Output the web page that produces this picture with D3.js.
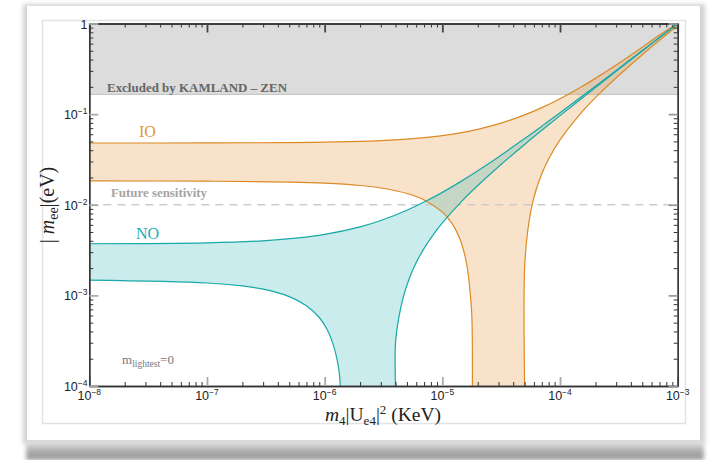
<!DOCTYPE html>
<html><head><meta charset="utf-8">
<script src="https://cdn.jsdelivr.net/npm/d3@7"></script>
<style>html,body{margin:0;padding:0;background:#fff;} svg{display:block;}</style>
</head><body><svg id="chart" width="712" height="460"></svg>
<script>
// ---------------- data ----------------
const xTickValues = [1e-8, 1e-7, 1e-6, 1e-5, 1e-4, 1e-3];
const xTickExponents = ["−8", "−7", "−6", "−5", "−4", "−3"];
const yTickValues = [1e-4, 1e-3, 1e-2, 1e-1, 1];
const yTickExponents = ["−4", "−3", "−2", "−1", ""];
const kamlandLimit = 0.165;
const futureSensitivity = 0.01;

const ioUpperX = [1e-8, 1e-7, 5e-7, 1e-6, 2e-6, 3e-6, 5e-6, 7e-6, 1e-5, 1.5e-5, 2e-5, 3e-5, 5e-5, 7e-5, 1e-4, 1.5e-4, 2e-4, 3e-4, 5e-4, 7e-4, 1e-3];
const ioUpperY = [0.048, 0.0481, 0.0485, 0.049, 0.050, 0.051, 0.053, 0.055, 0.058, 0.063, 0.068, 0.078, 0.098, 0.118, 0.148, 0.198, 0.248, 0.348, 0.548, 0.748, 1.0];
const ioLowerLeftX = [1e-8, 1e-7, 5e-7, 1e-6, 2e-6, 3e-6, 5e-6, 7e-6, 1e-5, 1.2e-5, 1.4e-5, 1.55e-5, 1.65e-5, 1.72e-5, 1.78e-5, 1.8e-5];
const ioLowerLeftY = [0.0183, 0.0182, 0.0178, 0.0173, 0.0163, 0.0153, 0.0133, 0.0113, 0.0083, 0.0063, 0.0043, 0.0028, 0.0018, 0.0011, 0.0006, 0.0001];
const ioLowerRightX = [5.0e-5, 5.0e-5, 5.3e-5, 5.7e-5, 6.2e-5, 7e-5, 8e-5, 1e-4, 1.5e-4, 2e-4, 3e-4, 5e-4, 7e-4, 1e-3];
const ioLowerRightY = [0.0001, 0.002, 0.005, 0.009, 0.014, 0.022, 0.032, 0.052, 0.102, 0.152, 0.252, 0.452, 0.652, 0.952];

const noUpperX = [1e-8, 1e-7, 3e-7, 6e-7, 1e-6, 2e-6, 3e-6, 5e-6, 7e-6, 1e-5, 1.5e-5, 2e-5, 3e-5, 5e-5, 7e-5, 1e-4, 2e-4, 3e-4, 5e-4, 7e-4, 1e-3];
const noUpperY = [0.00371, 0.0038, 0.0040, 0.0043, 0.0047, 0.0057, 0.0067, 0.0087, 0.0107, 0.0137, 0.0187, 0.0237, 0.0337, 0.0537, 0.0737, 0.1037, 0.2037, 0.3037, 0.5037, 0.7037, 1.0];
const noLowerLeftX = [1e-8, 1e-7, 2e-7, 3e-7, 5e-7, 7e-7, 9e-7, 1.05e-6, 1.18e-6, 1.27e-6, 1.33e-6, 1.36e-6];
const noLowerLeftY = [0.00147, 0.00137, 0.00127, 0.00117, 0.00097, 0.00077, 0.00057, 0.00042, 0.00029, 0.0002, 0.00014, 0.0001];
const noLowerRightX = [4.0e-6, 4.0e-6, 4.3e-6, 4.7e-6, 5.2e-6, 6e-6, 7e-6, 8.5e-6, 1e-5, 1.5e-5, 2e-5, 3e-5, 5e-5, 7e-5, 1e-4, 2e-4, 3e-4, 5e-4, 7e-4, 1e-3];
const noLowerRightY = [0.0001, 0.0003, 0.0006, 0.001, 0.0015, 0.0023, 0.0033, 0.0048, 0.0063, 0.0113, 0.0163, 0.0263, 0.0463, 0.0663, 0.0963, 0.1963, 0.2963, 0.4963, 0.6963, 0.9963];

// ---------------- layout ----------------
const svg = d3.select("#chart");
const X0 = 89.3, X1 = 677.7, Y0 = 23.5, Y1 = 386;
const x = d3.scaleLog().domain([1e-8, 1e-3]).range([X0, X1]);
const y = d3.scaleLog().domain([1e-4, 1]).range([Y1, Y0]);

const ORANGE = "#dc8a25", TEAL = "#18a8a8";

const defs = svg.append("defs");
defs.append("filter").attr("id", "blur").attr("x", "-10%").attr("y", "-10%").attr("width", "120%").attr("height", "120%")
  .append("feGaussianBlur").attr("stdDeviation", 2.2);
const grad = defs.append("linearGradient").attr("id", "btm").attr("x1", 0).attr("y1", 0).attr("x2", 0).attr("y2", 1);
grad.append("stop").attr("offset", 0).attr("stop-color", "#e8e8e8");
grad.append("stop").attr("offset", 0.6).attr("stop-color", "#a6a6a6");
grad.append("stop").attr("offset", 1).attr("stop-color", "#9a9a9a");
defs.append("clipPath").attr("id", "plotclip").append("rect")
  .attr("x", X0).attr("y", Y0).attr("width", X1 - X0).attr("height", Y1 - Y0);

// card with shadow
svg.append("rect").attr("x", 23).attr("y", 4).attr("width", 682).attr("height", 440).attr("fill", "#d2d2d2").attr("filter", "url(#blur)");
svg.append("rect").attr("x", 26).attr("y", 441).attr("width", 678).attr("height", 19).attr("fill", "url(#btm)").attr("filter", "url(#blur)");
svg.append("rect").attr("x", 27).attr("y", 6).attr("width", 673).attr("height", 434).attr("fill", "#fff");
svg.append("rect").attr("x", 42.5).attr("y", 20.5).attr("width", 643).attr("height", 403)
  .attr("fill", "#fff").attr("stroke", "#e3e3e3").attr("stroke-width", 1.5);

const plot = svg.append("g").attr("clip-path", "url(#plotclip)");

// excluded region
plot.append("rect").attr("x", X0).attr("y", y(1)).attr("width", X1 - X0).attr("height", y(kamlandLimit) - y(1)).attr("fill", "#dcdcdc");
plot.append("line").attr("x1", X0).attr("x2", X1).attr("y1", y(kamlandLimit)).attr("y2", y(kamlandLimit)).attr("stroke", "#c2c2c2").attr("stroke-width", 1);

const zip = (xs, ys) => xs.map((v, i) => [x(v), y(ys[i])]);
const line = d3.line().curve(d3.curveCatmullRom.alpha(0.5));

function band(ux, uy, rx, ry, lx, ly) {
  const up = zip(ux, uy);
  const right = zip(rx, ry).reverse();
  const left = zip(lx, ly).reverse();
  return line(up) + line(right).replace(/^M/, "L") + line(left).replace(/^M/, "L") + "Z";
}

plot.append("path").attr("d", band(ioUpperX, ioUpperY, ioLowerRightX, ioLowerRightY, ioLowerLeftX, ioLowerLeftY))
  .attr("fill", "#e8a050").attr("fill-opacity", 0.3);
plot.append("path").attr("d", band(noUpperX, noUpperY, noLowerRightX, noLowerRightY, noLowerLeftX, noLowerLeftY))
  .attr("fill", "#2ab4b4").attr("fill-opacity", 0.25);

// future sensitivity line
plot.append("line").attr("x1", X0).attr("x2", X1).attr("y1", y(futureSensitivity)).attr("y2", y(futureSensitivity))
  .attr("stroke", "#cccccc").attr("stroke-width", 1.6).attr("stroke-dasharray", "8,6");

// boundary curves
[[ioUpperX, ioUpperY], [ioLowerLeftX, ioLowerLeftY], [ioLowerRightX, ioLowerRightY]].forEach(([a, b]) =>
  plot.append("path").attr("d", line(zip(a, b))).attr("fill", "none").attr("stroke", ORANGE).attr("stroke-width", 1.2));
[[noUpperX, noUpperY], [noLowerLeftX, noLowerLeftY], [noLowerRightX, noLowerRightY]].forEach(([a, b]) =>
  plot.append("path").attr("d", line(zip(a, b))).attr("fill", "none").attr("stroke", TEAL).attr("stroke-width", 1.2));

// ---------------- axes (inward ticks, Mathematica frame) ----------------
const minorX = [], minorY = [];
for (let e = -8; e < -3; e++) for (let k = 2; k <= 9; k++) minorX.push(k * Math.pow(10, e));
for (let e = -4; e < 0; e++) for (let k = 2; k <= 9; k++) minorY.push(k * Math.pow(10, e));

function styleAxis(g, color, width) {
  g.selectAll(".tick line").attr("stroke", color).attr("stroke-width", width);
  g.select(".domain").attr("stroke", "#333").attr("stroke-width", 1.3);
}
function addAxis(axisFn, scale, transform, majors, minors, majorColor) {
  const gMin = svg.append("g").attr("transform", transform)
    .call(axisFn(scale).tickValues(minors).tickSize(-4).tickSizeOuter(0).tickFormat(""));
  styleAxis(gMin, "#333", 1);
  const gMaj = svg.append("g").attr("transform", transform)
    .call(axisFn(scale).tickValues(majors).tickSize(-9).tickSizeOuter(0).tickFormat(""));
  styleAxis(gMaj, majorColor, 1.8);
}
addAxis(d3.axisBottom, x, `translate(0,${Y1})`, xTickValues, minorX, "#aaaaaa");
addAxis(d3.axisTop, x, `translate(0,${Y0})`, xTickValues, minorX, "#444444");
addAxis(d3.axisLeft, y, `translate(${X0},0)`, yTickValues, minorY, "#aaaaaa");
addAxis(d3.axisRight, y, `translate(${X1},0)`, yTickValues, minorY, "#999999");

// tick labels
const tickFont = "'Liberation Sans', Arial, sans-serif";
xTickValues.forEach((v, i) => {
  const t = svg.append("text").attr("x", x(v)).attr("y", 400).attr("text-anchor", "middle")
    .attr("font-family", tickFont).attr("font-size", 12.5).attr("fill", "#222");
  t.append("tspan").text("10");
  t.append("tspan").attr("dy", -5).attr("font-size", 8.5).text(xTickExponents[i]);
});
yTickValues.forEach((v, i) => {
  const t = svg.append("text").attr("x", 87.5).attr("y", y(v) + 5).attr("text-anchor", "end")
    .attr("font-family", tickFont).attr("font-size", 12.5).attr("fill", "#222");
  if (yTickExponents[i] === "") { t.text("1"); return; }
  t.append("tspan").text("10");
  t.append("tspan").attr("dy", -5).attr("font-size", 8.5).text(yTickExponents[i]);
});

// axis titles
const serif = "'Liberation Serif', 'Times New Roman', serif";
const yt = svg.append("text").attr("transform", "translate(54,205) rotate(-90)").attr("text-anchor", "middle")
  .attr("font-family", serif).attr("font-size", 20).attr("fill", "#222");
yt.append("tspan").text("| ");
yt.append("tspan").attr("font-style", "italic").text("m");
yt.append("tspan").attr("dy", 4).attr("font-size", 14).text("ee");
yt.append("tspan").attr("dy", -4).text("|(eV)");

const xt = svg.append("text").attr("x", 383).attr("y", 421).attr("text-anchor", "middle")
  .attr("font-family", serif).attr("font-size", 19.5).attr("fill", "#222");
xt.append("tspan").attr("font-style", "italic").text("m");
xt.append("tspan").attr("dy", 4).attr("font-size", 13).text("4");
xt.append("tspan").attr("dy", -4).text("|U");
xt.append("tspan").attr("dy", 4).attr("font-size", 13).text("e4");
xt.append("tspan").attr("dy", -4).text("|");
xt.append("tspan").attr("dy", -7).attr("font-size", 13).text("2");
xt.append("tspan").attr("dy", 7).text(" (KeV)");

// annotations
svg.append("text").attr("x", 107).attr("y", 91.5).attr("font-family", serif).attr("font-weight", "bold")
  .attr("font-size", 13).attr("fill", "#666").attr("textLength", 180).attr("lengthAdjust", "spacingAndGlyphs")
  .text("Excluded by KAMLAND – ZEN");
svg.append("text").attr("x", 139).attr("y", 136.5).attr("font-family", serif).attr("font-size", 16)
  .attr("fill", "#e29834").text("IO");
svg.append("text").attr("x", 111).attr("y", 196.5).attr("font-family", serif).attr("font-weight", "bold")
  .attr("font-size", 11.5).attr("fill", "#a4a4a4").attr("textLength", 96).attr("lengthAdjust", "spacingAndGlyphs")
  .text("Future sensitivity");
svg.append("text").attr("x", 136).attr("y", 238.5).attr("font-family", serif).attr("font-size", 16)
  .attr("fill", "#1eaeae").text("NO");
const ml = svg.append("text").attr("x", 122).attr("y", 363.5).attr("font-family", serif).attr("font-size", 13)
  .attr("fill", "#777");
ml.append("tspan").text("m");
ml.append("tspan").attr("dy", 3).attr("font-size", 9.5).text("lightest");
ml.append("tspan").attr("dy", -3).text("=0");
</script></body></html>
